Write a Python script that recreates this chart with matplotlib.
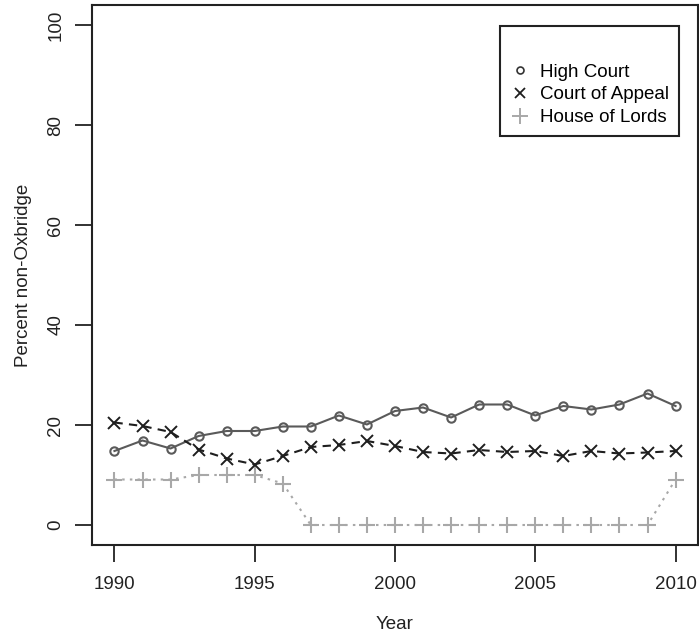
import numpy as np
import matplotlib.pyplot as plt
from matplotlib.lines import Line2D

plt.rcParams['font.family'] = ['Liberation Sans', 'DejaVu Sans']

years = list(range(1990, 2011))
high_court = [14.8, 16.9, 15.3, 17.8, 18.8, 18.8, 19.7, 19.7, 21.9, 20.1, 22.8,
              23.5, 21.5, 24.1, 24.1, 21.9, 23.8, 23.1, 24.1, 26.3, 23.8]
court_of_appeal = [20.5, 19.8, 18.6, 15.1, 13.3, 12.1, 13.8, 15.6, 16.0, 16.8, 15.8,
                   14.6, 14.3, 15.0, 14.6, 14.8, 13.8, 14.8, 14.3, 14.5, 14.8]
house_of_lords = [9.1, 9.1, 9.1, 10.0, 10.0, 10.0, 8.3, 0, 0, 0, 0,
                  0, 0, 0, 0, 0, 0, 0, 0, 0, 9.1]
x_ticks = [1990, 1995, 2000, 2005, 2010]
y_ticks = [0, 20, 40, 60, 80, 100]

fig = plt.figure(figsize=(6.99, 6.38), dpi=100)
ax = fig.add_axes([92 / 699, 93 / 638, 606 / 699, 540 / 638])

c_hc = '#5a5a5a'
c_ca = '#1e1e1e'
c_hl = '#a8a8a8'
fs = 13.5

ax.plot(years, high_court, color=c_hc, lw=1.5, ls='-', marker='o', ms=6,
        mfc='none', mec=c_hc, mew=1.5)
ax.plot(years, court_of_appeal, color=c_ca, lw=1.5, ls=(0, (4, 3)), marker='x', ms=8,
        mec=c_ca, mew=1.4)
ax.plot(years, house_of_lords, color=c_hl, lw=1.5, ls=(0, (1.2, 2.5)), marker='+', ms=12,
        mec=c_hl, mew=1.5)

ax.set_xlim(1989.2, 2010.8)
ax.set_ylim(-4, 104)
ax.set_xticks(x_ticks)
ax.set_yticks(y_ticks)
ax.set_yticklabels([str(v) for v in y_ticks], rotation=90, va='center')
ax.tick_params(axis='both', direction='out', length=12, width=1.3, labelsize=fs,
               colors='#222222', pad=10)
ax.tick_params(axis='y', pad=8)
for s in ax.spines.values():
    s.set_linewidth(1.5)
    s.set_color('#222222')

ax.set_xlabel('Year', fontsize=fs, color='#222222', labelpad=17)
ax.set_ylabel('Percent non-Oxbridge', fontsize=fs, color='#222222', labelpad=11)

handles = [
    Line2D([], [], ls='none', marker='o', ms=5, mfc='none', mec='#333333', mew=1.2),
    Line2D([], [], ls='none', marker='x', ms=7, mec='#1e1e1e', mew=1.3),
    Line2D([], [], ls='none', marker='+', ms=11, mec=c_hl, mew=1.4),
]
leg = ax.legend(handles, ['High Court', 'Court of Appeal', 'House of Lords'],
                title=' ', title_fontsize=fs + 4, loc='upper left',
                bbox_to_anchor=(0.673, 0.962), fontsize=fs, fancybox=False,
                framealpha=1, edgecolor='#222222', handlelength=1.0,
                handletextpad=0.6, labelspacing=0.3, borderpad=0.55,
                borderaxespad=0)
leg.get_frame().set_linewidth(1.5)

fig.savefig('out.png', dpi=100)
